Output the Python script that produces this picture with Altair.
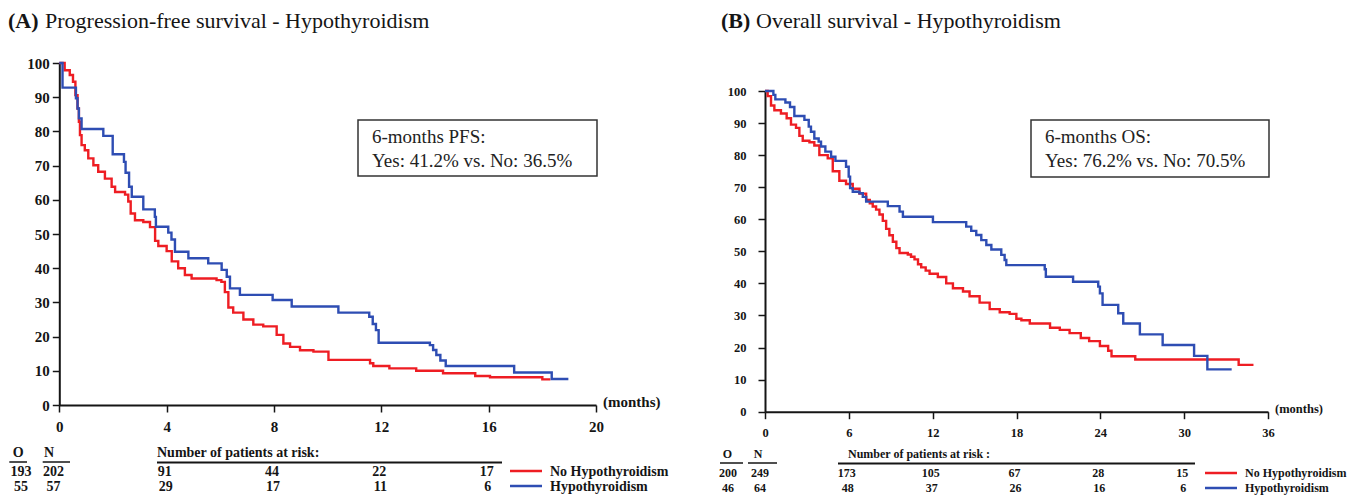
import altair as alt
import pandas as pd

# ---------------- (A) Progression-free survival ----------------
pfs_no_months = [0, 0.2, 0.39, 0.51, 0.6, 0.68, 0.73, 0.77, 0.83, 0.95, 1.08, 1.27, 1.45, 1.7,
                 1.95, 2.08, 2.45, 2.57, 2.66, 2.82, 3.13, 3.38, 3.57, 3.69, 4.0, 4.19, 4.43,
                 4.68, 4.93, 5.86, 6.04, 6.17, 6.3, 6.48, 6.86, 7.23, 7.6, 8.1, 8.35, 8.6,
                 8.97, 9.47, 10.03, 11.58, 11.7, 12.3, 13.3, 14.3, 15.5, 16.05, 18.0, 18.3]
pfs_no_surv = [100, 97.9, 96.5, 94.5, 90.6, 86.7, 82.8, 78.9, 76, 74.5, 72.1, 70.1, 68.2, 66.2,
               63.8, 62.3, 61.5, 59.5, 56, 54, 53.5, 52, 48, 46.5, 45, 42, 40,
               38, 37, 36.5, 36, 33, 28.5, 27, 25, 23.5, 23, 20.5, 18, 17,
               16, 15.6, 13.2, 12.2, 11.4, 10.7, 10.0, 9.3, 8.5, 8.1, 7.5, 7.5]
pfs_yes_months = [0, 0.12, 0.62, 0.68, 0.73, 0.83, 1.64, 1.99, 2.41, 2.47, 2.6, 2.7, 3.13, 3.56,
                  3.6, 4.06, 4.18, 4.31, 4.81, 5.55, 6.05, 6.24, 6.36, 6.73, 7.95, 8.66, 10.4,
                  11.55, 11.68, 11.8, 11.9, 13.81, 13.93, 14.05, 14.2, 14.4, 16.95, 18.35, 18.97]
pfs_yes_surv = [100, 92.8, 89.7, 86.7, 83.8, 80.7, 78.7, 73.3, 71.1, 67.9, 63.8, 60.9, 57.2, 55,
                52.1, 50.4, 48.4, 44.8, 42.9, 41.4, 39.5, 37.5, 34.1, 32.2, 30.7, 28.8, 27.0,
                25.8, 23.7, 21.9, 18.2, 17.5, 16.1, 14.6, 13.0, 11.4, 9.5, 7.6, 7.6]
pfs_risk_months = [4, 8, 12, 16]
pfs_risk_no = [91, 44, 22, 17]
pfs_risk_yes = [29, 17, 11, 6]
pfs_O = [193, 55]
pfs_N = [202, 57]
pfs_x_ticks = [0, 4, 8, 12, 16, 20]

# ---------------- (B) Overall survival ----------------
os_no_months = [0, 0.19, 0.43, 0.67, 1.14, 1.55, 1.86, 2.22, 2.46, 2.7, 3.18, 3.53, 3.89, 4.49,
                4.85, 5.32, 5.8, 6.28, 6.76, 7.24, 7.5, 7.71, 7.95, 8.19, 8.43, 8.67, 8.9,
                9.15, 9.4, 9.63, 10.22, 10.45, 10.7, 10.95, 11.18, 11.5, 11.78, 12.37, 12.97,
                13.45, 14.17, 14.64, 15.36, 16.08, 16.8, 17.51,
                17.99, 18.35, 18.95, 20.4, 21.1, 21.8, 22.6, 23.2, 23.97, 24.56, 24.8, 26.5,
                33.9, 34.96]
os_no_surv = [100, 98.4, 95.5, 94, 93, 91.5, 89.5, 88.5, 86, 84.5, 84, 83, 80, 79,
              75, 72, 71, 69.5, 68, 66, 65, 64, 63, 61.5, 59.5, 57, 55,
              53, 51, 49.5, 49, 48.3, 47.5, 46, 45, 44, 43, 42, 40,
              38.5, 37.5, 36, 34, 32, 31, 30.5,
              29, 28.5, 27.5, 26.2, 25.5, 24.5, 23, 22, 20.5, 19, 17.3, 16.3,
              14.6, 14.6]
os_yes_months = [0, 0.6, 0.74, 1.46, 1.79, 2.1, 2.82, 3.13, 3.29, 3.53, 3.84, 4.01, 4.32, 4.73,
                 5.04, 5.8, 5.99, 6.09, 6.28, 6.76, 7.0, 7.24, 8.79, 9.63, 9.87, 12.02, 14.4,
                 14.76, 15.12, 15.48, 15.84, 16.2, 16.91, 17.15, 17.27, 20.02, 20.1, 22.05,
                 23.85, 23.97, 24.16, 25.28, 25.64, 26.83, 28.46, 30.71, 31.66, 33.4]
os_yes_surv = [100, 98.8, 97.4, 96.4, 95, 92.2, 91, 88.9, 87.3, 85.2, 84.2, 82.7, 81.1, 79.5,
               78.2, 76.4, 73.3, 69.7, 68.6, 68.1, 67, 65.5, 64.1, 62.4, 60.8, 59.1, 57.7,
               56.4, 55.1, 53.5, 52, 50.6, 48.9, 47.3, 45.7, 44.4, 42.1, 40.5,
               39, 36.9, 33.3, 30.7, 27.5, 24.1, 20.8, 17.4, 13.2, 13.2]
os_risk_months = [6, 12, 18, 24, 30]
os_risk_no = [173, 105, 67, 28, 15]
os_risk_yes = [48, 37, 26, 16, 6]
os_O = [200, 46]
os_N = [249, 64]
os_x_ticks = [0, 6, 12, 18, 24, 30, 36]

y_ticks = [0, 10, 20, 30, 40, 50, 60, 70, 80, 90, 100]

RED = "#EE1D23"
BLUE = "#2E4DB3"
SERIF = "Liberation Serif"
INK = "#151515"
W, H = 1346, 488


def label(text, x, y, size, weight="normal", align="left", color=INK):
    return alt.Chart(pd.DataFrame({"label": [text]})).mark_text(
        font=SERIF, fontSize=size, fontWeight=weight, align=align,
        baseline="alphabetic", color=color
    ).encode(x=alt.value(x), y=alt.value(y), text="label:N")


def hrule(x1, x2, y, color=INK, width=1.5):
    return alt.Chart(pd.DataFrame({"k": [0]})).mark_rule(
        color=color, strokeWidth=width
    ).encode(x=alt.value(x1), x2=alt.value(x2), y=alt.value(y))


def box(x1, x2, y1, y2):
    return alt.Chart(pd.DataFrame({"k": [0]})).mark_rect(
        fill="white", stroke="#333333", strokeWidth=1.5
    ).encode(x=alt.value(x1), x2=alt.value(x2), y=alt.value(y1), y2=alt.value(y2))


def panel(cfg):
    xs = alt.Scale(domain=cfg["xdom"], range=cfg["xrange"], nice=False, zero=False)
    ys = alt.Scale(domain=[0, 100], range=cfg["yrange"], nice=False, zero=False)
    axx = alt.Axis(values=cfg["xticks"], orient="bottom", offset=cfg["xoff"], title=None,
                   grid=False, domainColor=INK, domainWidth=2, tickColor=INK, tickWidth=1.5,
                   tickSize=cfg["tick"], labelFont=SERIF, labelFontWeight="bold",
                   labelFontSize=cfg["lab"], labelColor=INK, labelPadding=cfg["xpad"],
                   labelFlush=False, labelOverlap=False)
    axy = alt.Axis(values=y_ticks, orient="left", offset=cfg["yoff"], title=None,
                   grid=False, domainColor=INK, domainWidth=2, tickColor=INK, tickWidth=1.5,
                   tickSize=cfg["tick"], labelFont=SERIF, labelFontWeight="bold",
                   labelFontSize=cfg["lab"], labelColor=INK, labelPadding=cfg["ypad"],
                   labelFlush=False, labelOverlap=False)
    X = alt.X("t:Q", scale=xs, axis=axx)
    Y = alt.Y("s:Q", scale=ys, axis=axy)

    no_df = pd.DataFrame({"t": cfg["no_t"], "s": cfg["no_s"]})
    yes_df = pd.DataFrame({"t": cfg["yes_t"], "s": cfg["yes_s"]})
    red_line = alt.Chart(no_df).mark_line(interpolate="step-after", strokeWidth=2.4,
                                          color=RED).encode(x=X, y=Y)
    blue_line = alt.Chart(yes_df).mark_line(interpolate="step-after", strokeWidth=2.4,
                                            color=BLUE).encode(x=X, y=Y)

    risk = pd.DataFrame({"t": cfg["risk_t"], "no": cfg["risk_no"], "yes": cfg["risk_yes"]})
    tsize = cfg["tsize"]
    risk_no = alt.Chart(risk).mark_text(font=SERIF, fontSize=tsize, fontWeight="bold",
                                        align="center", baseline="alphabetic", color=INK,
                                        dx=-2).encode(
        x=X, y=alt.value(cfg["row1"]), text="no:Q")
    risk_yes = alt.Chart(risk).mark_text(font=SERIF, fontSize=tsize, fontWeight="bold",
                                         align="center", baseline="alphabetic", color=INK,
                                         dx=-1).encode(
        x=X, y=alt.value(cfg["row2"]), text="yes:Q")

    layers = [red_line, blue_line, risk_no, risk_yes]
    # titles
    layers.append(label(cfg["tag"], cfg["title_x"], 20, 22, "bold"))
    layers.append(label(cfg["title"], cfg["title_x2"], 20, 22))
    # (months)
    layers.append(label("(months)", cfg["months_x"], cfg["months_y"], cfg["months_size"], "bold"))
    # annotation box
    bx = cfg["box"]
    layers.append(box(bx[0], bx[1], bx[2], bx[3]))
    layers.append(label(cfg["box1"], bx[0] + 14, bx[2] + 23, 19, color="#222222"))
    layers.append(label(cfg["box2"], bx[0] + 14, bx[2] + 46.5, 19, color="#222222"))
    # O / N columns
    oc, nc = cfg["ocol"], cfg["ncol"]
    hy = cfg["head"]
    layers.append(label("O", oc[0], hy, tsize, "bold", "center"))
    layers.append(label("N", nc[0], hy, tsize, "bold", "center"))
    layers.append(hrule(oc[1], oc[2], hy + 5))
    layers.append(hrule(nc[1], nc[2], hy + 5))
    layers.append(label(str(cfg["O"][0]), oc[3], cfg["row1"], tsize, "bold", "center"))
    layers.append(label(str(cfg["N"][0]), nc[3], cfg["row1"], tsize, "bold", "center"))
    layers.append(label(str(cfg["O"][1]), oc[3], cfg["row2"], tsize, "bold", "center"))
    layers.append(label(str(cfg["N"][1]), nc[3], cfg["row2"], tsize, "bold", "center"))
    # number at risk header
    rh = cfg["riskhead"]
    layers.append(label(cfg["risk_text"], rh[0], hy, tsize, "bold"))
    layers.append(hrule(rh[1], rh[2], hy + 5.5, width=2))
    # legend
    lg = cfg["legend"]
    layers.append(hrule(lg[0], lg[1], lg[2], RED, 2.5))
    layers.append(hrule(lg[0], lg[1], lg[3], BLUE, 2.5))
    layers.append(label("No Hypothyroidism", lg[1] + 8, cfg["row1"], tsize, "bold"))
    layers.append(label("Hypothyroidism", lg[1] + 8, cfg["row2"], tsize, "bold"))
    return alt.layer(*layers)


left = panel(dict(
    no_t=pfs_no_months, no_s=pfs_no_surv, yes_t=pfs_yes_months, yes_s=pfs_yes_surv,
    xdom=[0, 20], xrange=[51.3, 588], yrange=[397, 55], xticks=pfs_x_ticks,
    xoff=-91, yoff=-51.3, tick=7, lab=15, xpad=7, ypad=3,
    risk_t=pfs_risk_months, risk_no=pfs_risk_no, risk_yes=pfs_risk_yes,
    row1=468, row2=483, head=449, tsize=14,
    tag="(A)", title="Progression-free survival - Hypothyroidism", title_x=0, title_x2=37,
    months_x=595, months_y=399, months_size=15,
    box=[350, 589, 112, 168], box1="6-months PFS:", box2="Yes: 41.2% vs. No: 36.5%",
    ocol=[10.3, 1.3, 19, 13], ncol=[41, 34.7, 62, 45.5], O=pfs_O, N=pfs_N,
    riskhead=[149, 149, 494], risk_text="Number of patients at risk:",
    legend=[502, 534, 463, 478],
))

right = panel(dict(
    no_t=os_no_months, no_s=os_no_surv, yes_t=os_yes_months, yes_s=os_yes_surv,
    xdom=[0, 36], xrange=[757, 1260], yrange=[403.7, 83], xticks=os_x_ticks,
    xoff=-84.3, yoff=-757, tick=7, lab=12.5, xpad=8, ypad=12,
    risk_t=os_risk_months, risk_no=os_risk_no, risk_yes=os_risk_yes,
    row1=469, row2=484, head=450, tsize=12,
    tag="(B)", title="Overall survival - Hypothyroidism", title_x=713, title_x2=748,
    months_x=1267, months_y=405, months_size=12.5,
    box=[1023, 1261, 112, 169], box1="6-months OS:", box2="Yes: 76.2% vs. No: 70.5%",
    ocol=[719.5, 712, 735, 720], ncol=[750, 740, 769, 752], O=os_O, N=os_N,
    riskhead=[840, 830, 1187], risk_text="Number of patients at risk :",
    legend=[1197, 1229, 465, 480],
))

chart = alt.layer(left, right).resolve_scale(x="independent", y="independent").properties(
    width=W, height=H, padding=0, background="white",
    autosize=alt.AutoSizeParams(type="none"),
).configure_view(stroke=None)

chart.save("out.html", embed_options={"renderer": "svg", "actions": False})
